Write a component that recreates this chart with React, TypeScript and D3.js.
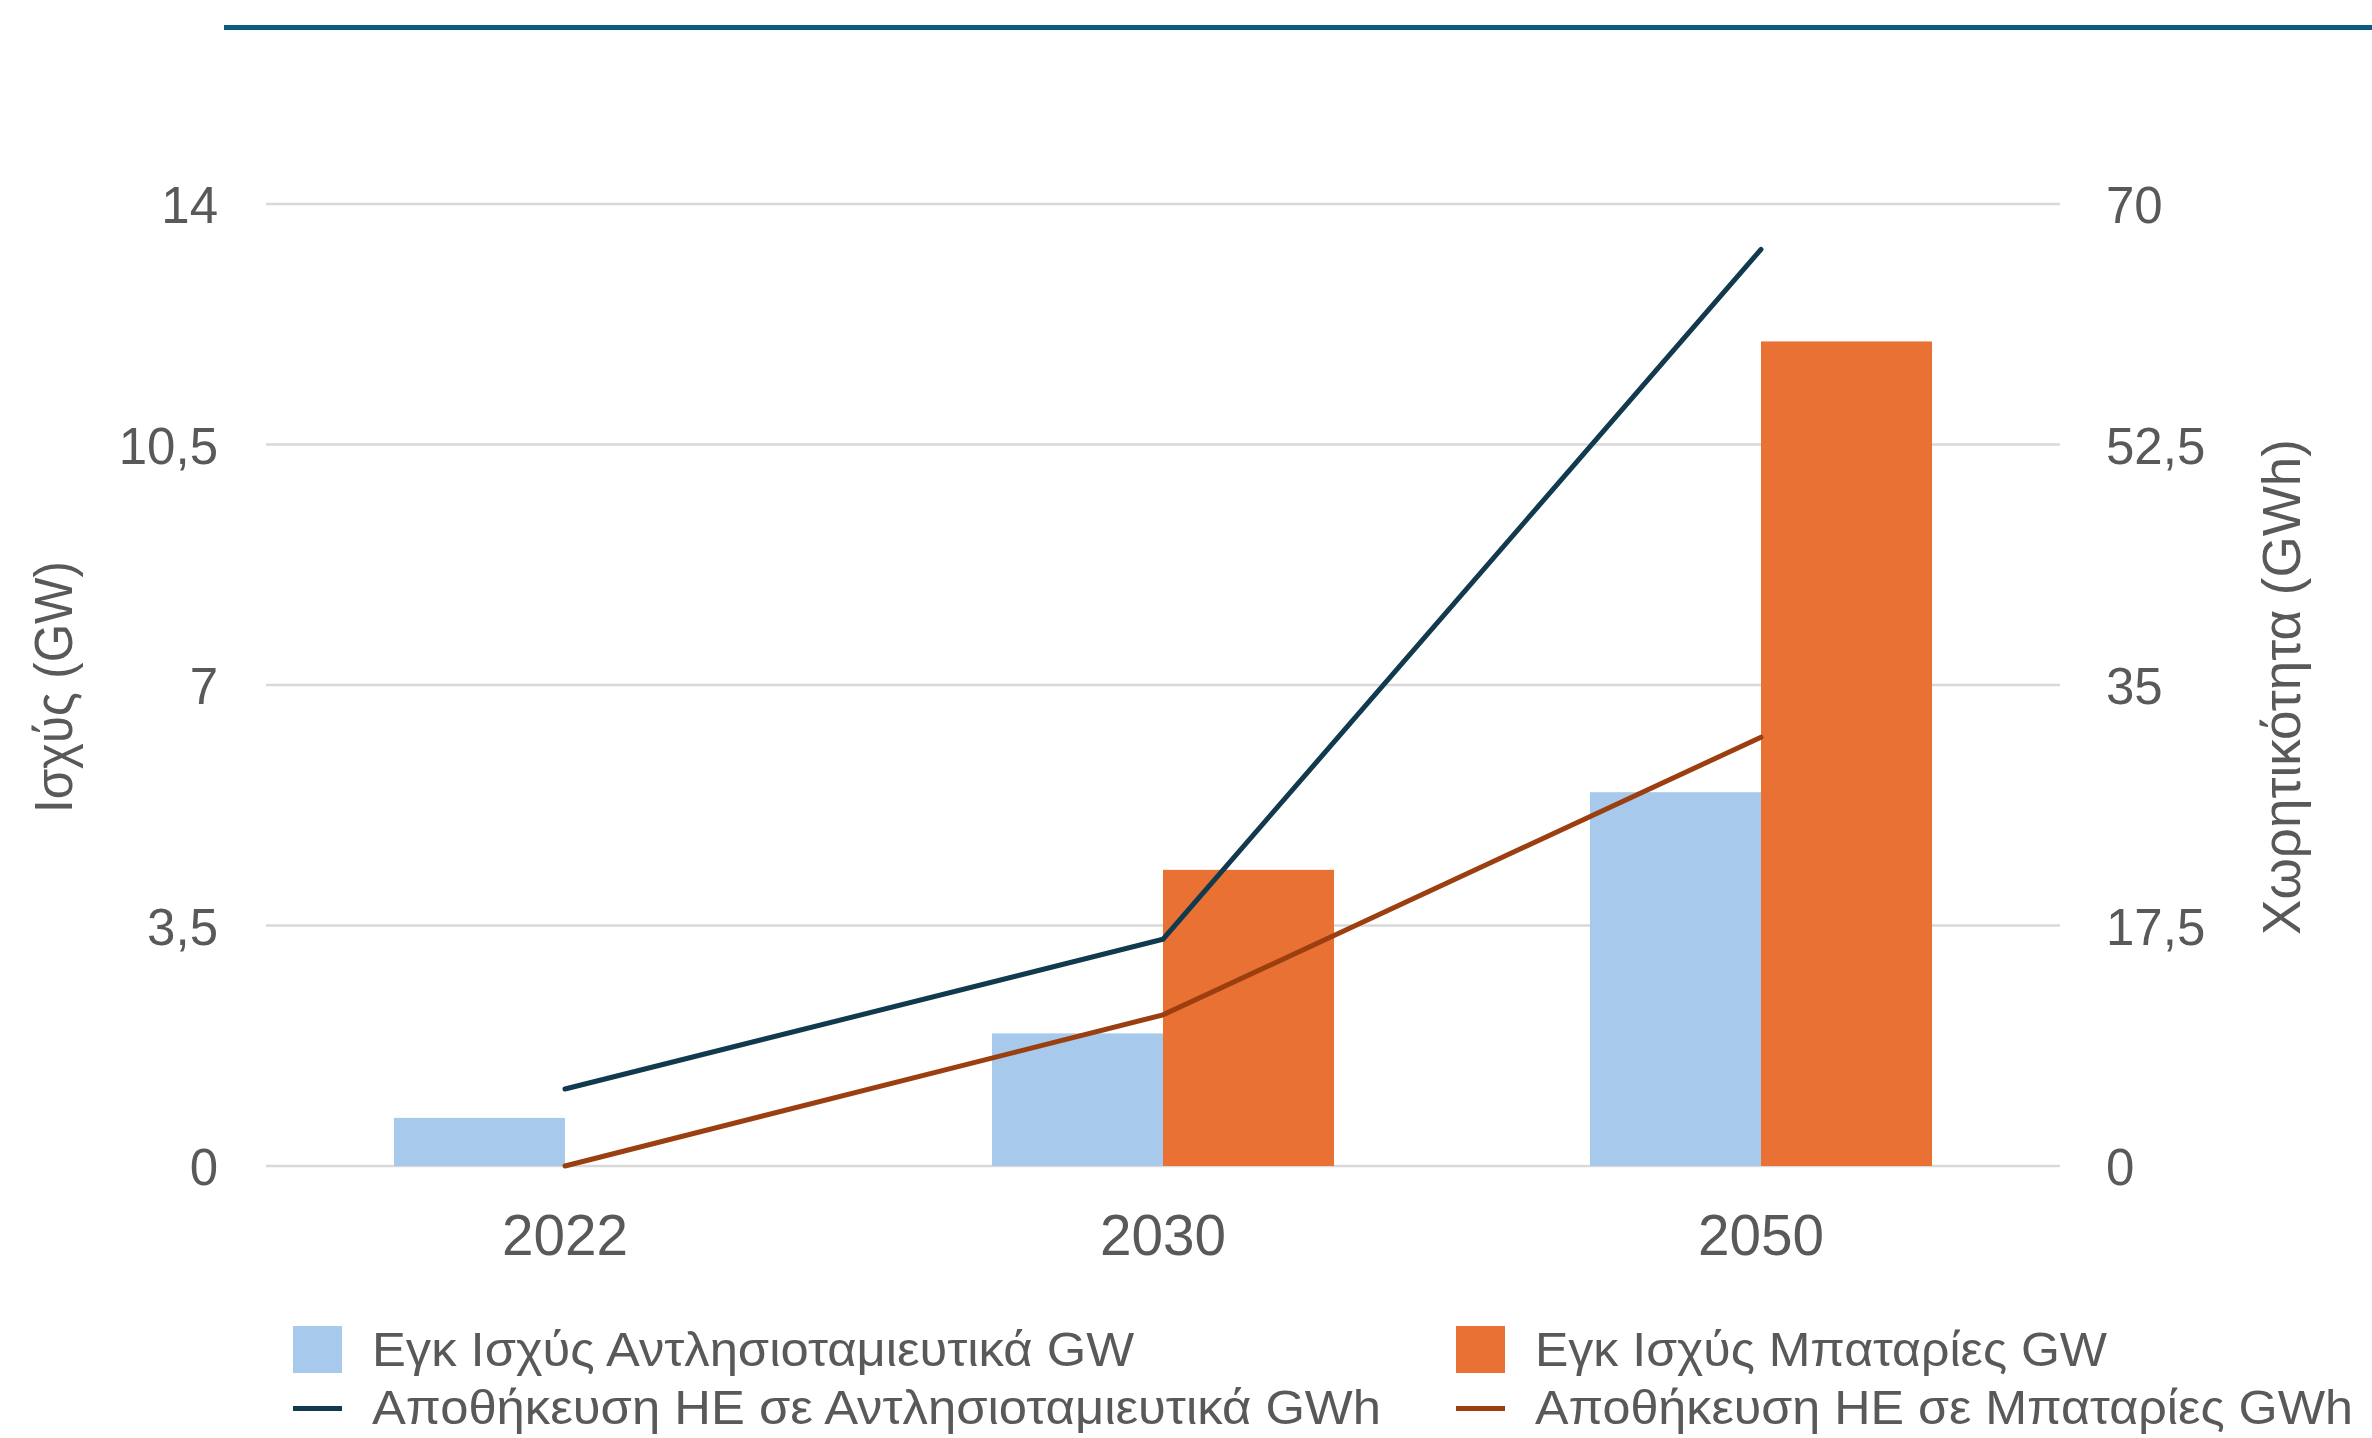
import React from "react";
import * as d3 from "d3";

const categories = ["2022", "2030", "2050"];
const pumpedGW = [0.7, 1.93, 5.44];
const batteryGW = [0, 4.31, 12.0];
const pumpedGWh = [5.6, 16.5, 66.7];
const batteryGWh = [0, 11.0, 31.2];
const leftTicks = [0, 3.5, 7, 10.5, 14];
const leftTickLabels = ["0", "3,5", "7", "10,5", "14"];
const rightTicks = [0, 17.5, 35, 52.5, 70];
const rightTickLabels = ["0", "17,5", "35", "52,5", "70"];
const seriesNames = [
  "Εγκ Ισχύς Αντλησιοταμιευτικά GW",
  "Εγκ Ισχύς Μπαταρίες GW",
  "Αποθήκευση ΗΕ σε Αντλησιοταμιευτικά GWh",
  "Αποθήκευση ΗΕ σε Μπαταρίες GWh",
];
const leftTitle = "Ισχύς (GW)";
const rightTitle = "Χωρητικότητα (GWh)";

const W = 2372;
const H = 1438;
const plotL = 266;
const plotR = 2060;
const plotT = 204;
const plotB = 1166;

const C_BLUE = "#a7c9eb";
const C_ORANGE = "#e87133";
const C_NAVY = "#113a4e";
const C_BROWN = "#9c3f10";
const C_TEXT = "#595959";
const C_GRID = "#d9d9d9";
const FONT = "'Liberation Sans', Arial, Helvetica, sans-serif";

export default function App() {
  const x0 = d3
    .scaleBand<string>()
    .domain(categories)
    .range([plotL, plotR])
    .paddingInner(0.428)
    .paddingOuter(0.214);
  const bw = x0.bandwidth() / 2;
  const yL = d3.scaleLinear().domain([0, 14]).range([plotB, plotT]);
  const yR = d3.scaleLinear().domain([0, 70]).range([plotB, plotT]);
  const cx = (c: string) => (x0(c) as number) + x0.bandwidth() / 2;

  const line = d3
    .line<number>()
    .x((_, i) => cx(categories[i]))
    .y((d) => yR(d));

  const legendTextLen = [762, 572, 1009, 818];
  const legendX = [293, 1456];
  const legendBase = [1366, 1424];

  return (
    <svg
      width={W}
      height={H}
      style={{ position: "absolute", left: 0, top: 0, background: "#fff" }}
      fontFamily={FONT}
    >
      <rect x={0} y={0} width={W} height={H} fill="#fff" />
      <rect x={224} y={25} width={W - 224} height={5} fill="#0b5d7e" />

      {leftTicks.map((t, i) => (
        <g key={"g" + i}>
          <line
            x1={plotL}
            x2={plotR}
            y1={yL(t)}
            y2={yL(t)}
            stroke={C_GRID}
            strokeWidth={2.5}
          />
          <text
            x={218}
            y={yL(t) + 19}
            textAnchor="end"
            fontSize={51}
            fill={C_TEXT}
          >
            {leftTickLabels[i]}
          </text>
        </g>
      ))}
      {rightTicks.map((t, i) => (
        <text
          key={"r" + i}
          x={2106}
          y={yR(t) + 19}
          textAnchor="start"
          fontSize={51}
          fill={C_TEXT}
        >
          {rightTickLabels[i]}
        </text>
      ))}

      {categories.map((c, i) => (
        <g key={"b" + i}>
          {pumpedGW[i] > 0 && (
            <rect
              x={x0(c) as number}
              y={yL(pumpedGW[i])}
              width={bw}
              height={plotB - yL(pumpedGW[i])}
              fill={C_BLUE}
            />
          )}
          {batteryGW[i] > 0 && (
            <rect
              x={(x0(c) as number) + bw}
              y={yL(batteryGW[i])}
              width={bw}
              height={plotB - yL(batteryGW[i])}
              fill={C_ORANGE}
            />
          )}
          <text
            x={cx(c)}
            y={1255}
            textAnchor="middle"
            fontSize={58}
            textLength={126}
            lengthAdjust="spacingAndGlyphs"
            fill={C_TEXT}
          >
            {c}
          </text>
        </g>
      ))}

      <path
        d={line(pumpedGWh) || ""}
        fill="none"
        stroke={C_NAVY}
        strokeWidth={5}
        strokeLinecap="round"
      />
      <path
        d={line(batteryGWh) || ""}
        fill="none"
        stroke={C_BROWN}
        strokeWidth={5}
        strokeLinecap="round"
      />

      <text
        transform={`translate(72,687) rotate(-90)`}
        textAnchor="middle"
        fontSize={54}
        textLength={252}
        lengthAdjust="spacingAndGlyphs"
        fill={C_TEXT}
      >
        {leftTitle}
      </text>
      <text
        transform={`translate(2300,687) rotate(-90)`}
        textAnchor="middle"
        fontSize={53}
        textLength={496}
        lengthAdjust="spacingAndGlyphs"
        fill={C_TEXT}
      >
        {rightTitle}
      </text>

      {seriesNames.map((s, i) => {
        const col = i % 2;
        const row = Math.floor(i / 2);
        const lx = legendX[col];
        const base = legendBase[row];
        const color = [C_BLUE, C_ORANGE, C_NAVY, C_BROWN][i];
        return (
          <g key={"l" + i}>
            {row === 0 ? (
              <rect x={lx} y={1326} width={49} height={47} fill={color} />
            ) : (
              <rect x={lx} y={1406} width={49} height={5} fill={color} />
            )}
            <text
              x={lx + 79}
              y={base}
              fontSize={48}
              textLength={legendTextLen[i]}
              lengthAdjust="spacingAndGlyphs"
              fill={C_TEXT}
            >
              {s}
            </text>
          </g>
        );
      })}
    </svg>
  );
}
